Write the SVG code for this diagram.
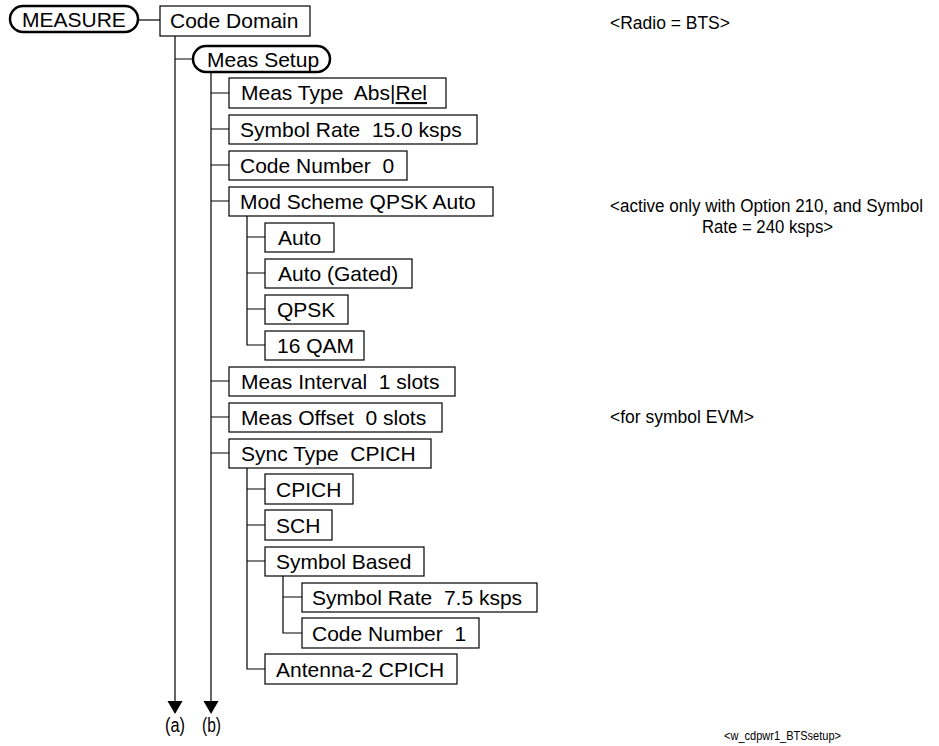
<svg xmlns="http://www.w3.org/2000/svg" width="939" height="746" viewBox="0 0 939 746">
<style>
.bx{fill:#fff;stroke:#000;stroke-width:1.2}
.pill{fill:#fff;stroke:#000;stroke-width:2.5}
.t{font-family:"Liberation Sans",Arial,sans-serif;font-size:21px;fill:#000;white-space:pre}
.n{font-family:"Liberation Sans",Arial,sans-serif;font-size:17.5px;fill:#000;white-space:pre}
.c{fill:none;stroke:#000;stroke-width:1.2}
</style>
<rect width="939" height="746" fill="#fff"/>
<g id="connectors">
<path class="c" d="M138 20H160"/>
<path class="c" d="M175 36V703M175 59H193"/>
<path class="c" d="M211 72V703M211 93H229M211 129H229M211 165H229M211 201H229M211 381H229M211 417H229M211 453H229"/>
<path class="c" d="M247 216V345H265M247 237H265M247 273H265M247 309H265"/>
<path class="c" d="M247 468V669H265M247 489H265M247 525H265M247 561H265"/>
<path class="c" d="M283 576V633H302M283 597H302"/>
<polygon points="167.5,701 182.5,701 175,714" fill="#000"/>
<polygon points="203.5,701 218.5,701 211,714" fill="#000"/>
</g>
<g id="n-measure"><rect class="pill" x="10" y="6" width="128" height="26" rx="13"/><text class="t" x="22" y="27">MEASURE</text></g>
<g id="n-codedomain"><rect class="bx" x="160" y="6" width="150" height="30"/><text class="t" x="170" y="28">Code Domain</text></g>
<g id="n-meassetup"><rect class="pill" x="193" y="46" width="137" height="26" rx="13"/><text class="t" x="207" y="67">Meas Setup</text></g>
<g id="n-meastype"><rect class="bx" x="229" y="78" width="217" height="30"/><text class="t" x="241" y="100" xml:space="preserve">Meas Type  Abs|<tspan text-decoration="underline">Rel</tspan></text></g>
<g id="n-symrate"><rect class="bx" x="229" y="115" width="248" height="29"/><text class="t" x="240" y="137" xml:space="preserve">Symbol Rate  15.0 ksps</text></g>
<g id="n-codenum"><rect class="bx" x="229" y="151" width="178" height="29"/><text class="t" x="240" y="173" xml:space="preserve">Code Number  0</text></g>
<g id="n-modscheme"><rect class="bx" x="229" y="187" width="264" height="29"/><text class="t" x="240" y="209">Mod Scheme QPSK Auto</text></g>
<g id="n-auto"><rect class="bx" x="265" y="223" width="69" height="29"/><text class="t" x="278" y="245">Auto</text></g>
<g id="n-autogated"><rect class="bx" x="265" y="259" width="147" height="29"/><text class="t" x="278" y="281">Auto (Gated)</text></g>
<g id="n-qpsk"><rect class="bx" x="265" y="295" width="83" height="29"/><text class="t" x="277" y="317">QPSK</text></g>
<g id="n-16qam"><rect class="bx" x="265" y="331" width="99" height="29"/><text class="t" x="277" y="353">16 QAM</text></g>
<g id="n-measinterval"><rect class="bx" x="229" y="367" width="226" height="29"/><text class="t" x="241" y="389" xml:space="preserve">Meas Interval  1 slots</text></g>
<g id="n-measoffset"><rect class="bx" x="229" y="403" width="213" height="29"/><text class="t" x="241" y="425" xml:space="preserve">Meas Offset  0 slots</text></g>
<g id="n-synctype"><rect class="bx" x="229" y="439" width="202" height="29"/><text class="t" x="241" y="461" xml:space="preserve">Sync Type  CPICH</text></g>
<g id="n-cpich"><rect class="bx" x="265" y="474" width="88" height="30"/><text class="t" x="276" y="497">CPICH</text></g>
<g id="n-sch"><rect class="bx" x="265" y="510" width="67" height="30"/><text class="t" x="276" y="533">SCH</text></g>
<g id="n-symbased"><rect class="bx" x="265" y="547" width="159" height="29"/><text class="t" x="276" y="569">Symbol Based</text></g>
<g id="n-symrate2"><rect class="bx" x="302" y="583" width="235" height="29"/><text class="t" x="312" y="605" xml:space="preserve">Symbol Rate  7.5 ksps</text></g>
<g id="n-codenum2"><rect class="bx" x="302" y="618" width="177" height="30"/><text class="t" x="312" y="641" xml:space="preserve">Code Number  1</text></g>
<g id="n-ant2"><rect class="bx" x="265" y="654" width="192" height="30"/><text class="t" x="276" y="677">Antenna-2 CPICH</text></g>
<g id="notes">
<text class="n" x="610" y="29" textLength="120" lengthAdjust="spacingAndGlyphs">&lt;Radio = BTS&gt;</text>
<text class="n" x="610" y="212" textLength="313" lengthAdjust="spacingAndGlyphs">&lt;active only with Option 210, and Symbol</text>
<text class="n" x="702" y="233" textLength="131" lengthAdjust="spacingAndGlyphs">Rate = 240 ksps&gt;</text>
<text class="n" x="610" y="423" textLength="144" lengthAdjust="spacingAndGlyphs">&lt;for symbol EVM&gt;</text>
<text class="n" x="724" y="740" style="font-size:13px" textLength="117" lengthAdjust="spacingAndGlyphs">&lt;w_cdpwr1_BTSsetup&gt;</text>
<text class="n" x="165" y="732" style="font-size:20px" textLength="20" lengthAdjust="spacingAndGlyphs">(a)</text>
<text class="n" x="202" y="732" style="font-size:20px" textLength="19" lengthAdjust="spacingAndGlyphs">(b)</text>
</g>
</svg>
